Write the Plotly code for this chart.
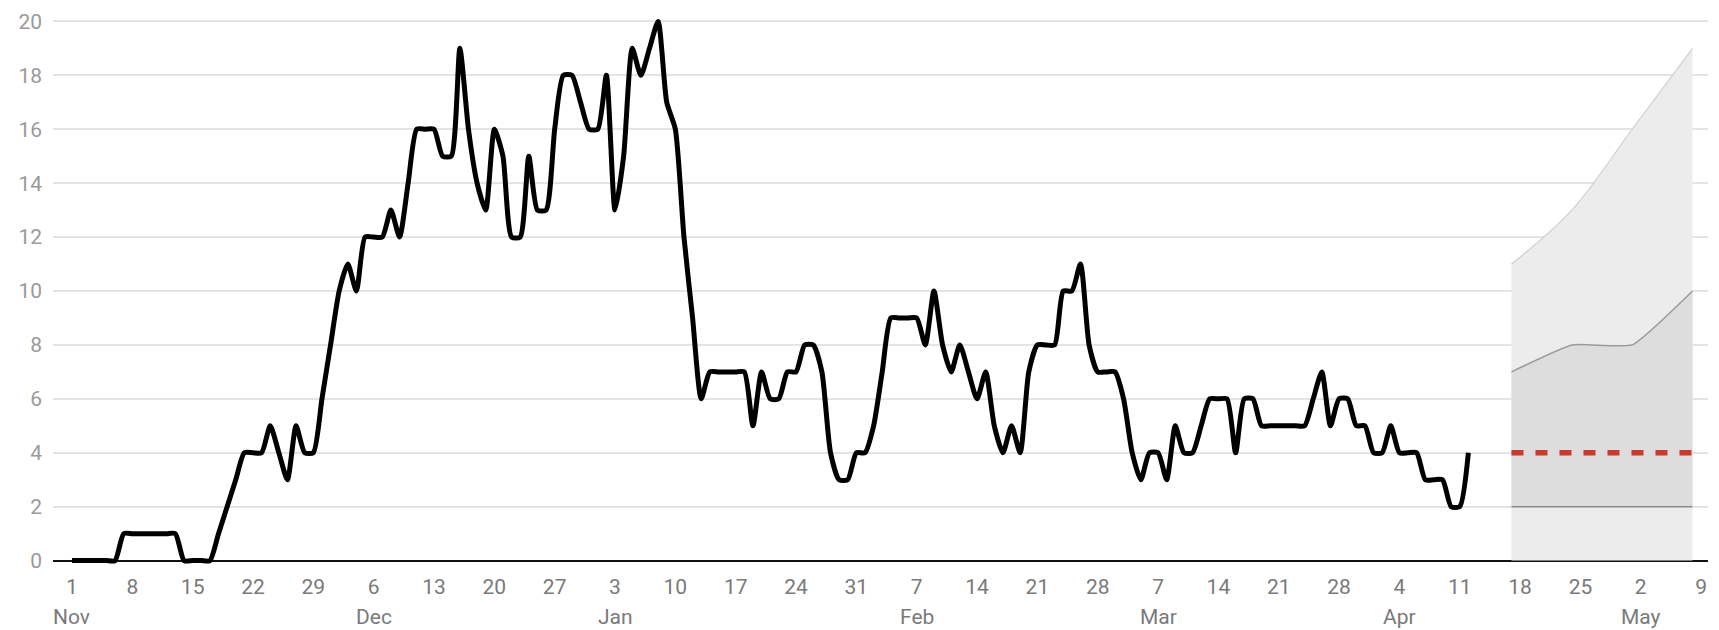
import pandas as pd
import plotly.graph_objects as go

# ---------------- data ----------------
start_date = "2020-11-01"
values_nov = [0,0,0,0,0,0,1,1,1,1,1,1,1,0,0,0,0,1,2,3,4,4,4,5,4,3,5,4,4,6]
values_dec = [8,10,11,10,12,12,12,13,12,14,16,16,16,15,15,19,16,14,13,16,15,12,12,15,13,13,16,18,18,17,16]
values_jan = [16,18,13,15,19,18,19,20,17,16,12,9,6,7,7,7,7,7,5,7,6,6,7,7,8,8,7,4,3,3,4]
values_feb = [4,5,7,9,9,9,9,8,10,8,7,8,7,6,7,5,4,5,4,7,8,8,8,10,10,11,8,7]
values_mar = [7,7,6,4,3,4,4,3,5,4,4,5,6,6,6,4,6,6,5,5,5,5,5,5,6,7,5,6,6,5,5]
values_apr = [4,4,5,4,4,4,3,3,3,2,2,4]
observed = values_nov + values_dec + values_jan + values_feb + values_mar + values_apr

forecast_dates = ["2021-04-17", "2021-04-24", "2021-05-01", "2021-05-08"]
forecast_upper = [11, 13, 16, 19]
forecast_mid = [7, 8, 8, 10]
forecast_lower = [2, 2, 2, 2]
target_dates = ["2021-04-17", "2021-05-08"]
target_value = [4, 4]

tick_dates = list(pd.date_range("2020-11-01", "2021-05-09", freq="7D"))
month_labels = {"2020-11-01": "Nov", "2020-12-06": "Dec", "2021-01-03": "Jan",
                "2021-02-07": "Feb", "2021-03-07": "Mar", "2021-04-04": "Apr",
                "2021-05-02": "May"}
y_ticks = list(range(0, 21, 2))

obs_dates = pd.date_range(start_date, periods=len(observed), freq="D")

FONT = "Roboto"

fig = go.Figure()

# forecast band: light area from zero to upper
fig.add_trace(go.Scatter(x=forecast_dates, y=forecast_upper, mode="lines",
                         line=dict(color="#cfcfcf", width=1.2, shape="spline", smoothing=1.0),
                         fill="tozeroy", fillcolor="#ececec", hoverinfo="skip"))
# lower line
fig.add_trace(go.Scatter(x=forecast_dates, y=forecast_lower, mode="lines",
                         line=dict(color="#8a8a8a", width=1.5), hoverinfo="skip"))
# middle with darker fill down to lower
fig.add_trace(go.Scatter(x=forecast_dates, y=forecast_mid, mode="lines",
                         line=dict(color="#9a9a9a", width=1.5, shape="spline", smoothing=0.4),
                         fill="tonexty", fillcolor="#dddddd", hoverinfo="skip"))
# red dashed target
fig.add_trace(go.Scatter(x=target_dates, y=target_value, mode="lines",
                         line=dict(color="#c63a30", width=5.5, dash="12px,12px"),
                         hoverinfo="skip"))
# observed line
fig.add_trace(go.Scatter(x=obs_dates, y=observed, mode="lines",
                         line=dict(color="#000000", width=5, shape="spline", smoothing=0.6),
                         hoverinfo="skip"))

annotations = []
for d, lab in month_labels.items():
    annotations.append(dict(x=d, y=0, xref="x", yref="paper", text=lab, showarrow=False,
                            yanchor="middle", xanchor="center", yshift=-51,
                            font=dict(family=FONT, size=21, color="#7a7a7a")))

fig.update_layout(
    width=1719, height=630,
    margin=dict(l=53, r=11, t=10, b=64),
    paper_bgcolor="white", plot_bgcolor="white",
    showlegend=False,
    xaxis=dict(
        type="date",
        range=["2020-10-29 19:12", "2021-05-09 19:12"],
        tickvals=tick_dates,
        ticktext=[str(d.day) for d in tick_dates],
        showgrid=False, zeroline=False, showline=False, ticks="",
        tickfont=dict(family=FONT, size=21, color="#7a7a7a"),
        ticklabelstandoff=6,
    ),
    yaxis=dict(
        range=[-0.2, 20.2],
        tickvals=y_ticks,
        showgrid=True, gridcolor="#e4e4e4", gridwidth=1.5,
        zeroline=True, zerolinecolor="#111111", zerolinewidth=1.5,
        showline=False, ticks="",
        tickfont=dict(family=FONT, size=21, color="#9a9a9a"),
        ticklabelstandoff=10,
    ),
    annotations=annotations,
)

fig.write_html("out.html", config={"displayModeBar": False},
               post_script="document.body.style.margin='0';")
